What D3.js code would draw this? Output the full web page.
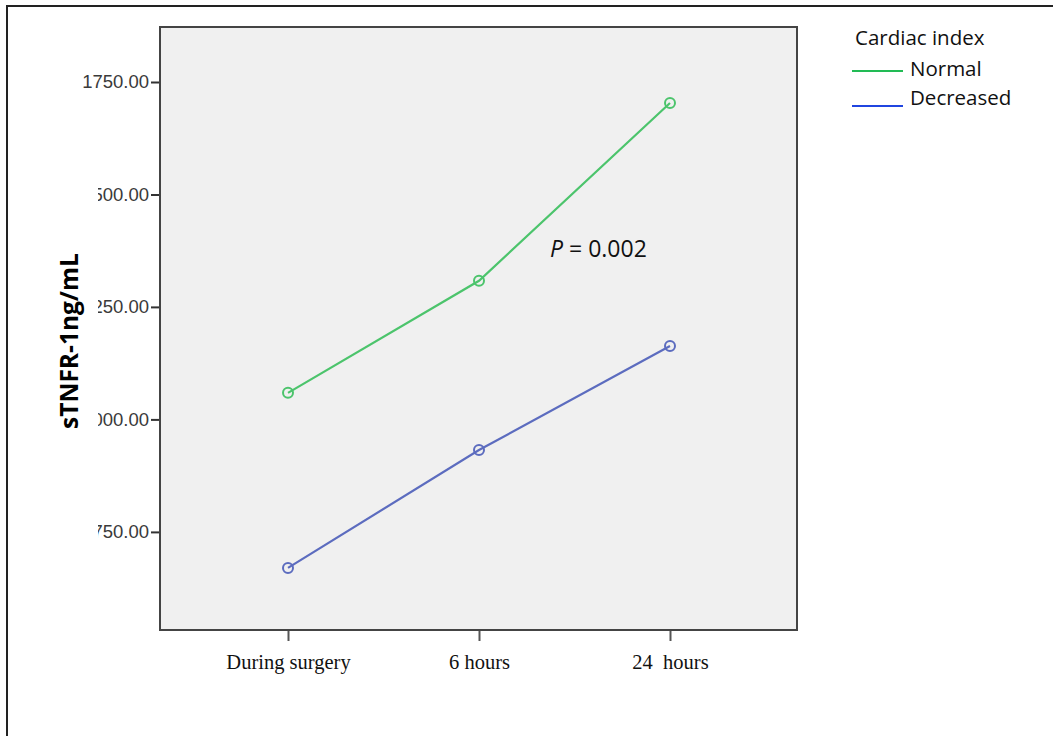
<!DOCTYPE html>
<html>
<head>
<meta charset="utf-8">
<script src="https://cdn.jsdelivr.net/npm/d3@7"></script>
<style>
  body { margin: 0; background: #fff; }
  svg { display: block; }
</style>
</head>
<body>
<div id="chart"></div>
<script>
// data
var timePoints = ["During surgery", "6 hours", "24  hours"];
var normalValues = [1059, 1308, 1703];
var decreasedValues = [670, 932, 1163];
var yTicks = [750, 1000, 1250, 1500, 1750];
var seriesNames = ["Normal", "Decreased"];

var width = 1053, height = 736;
var plot = { left: 160, top: 27, right: 797, bottom: 630 };

var svg = d3.select("#chart").append("svg")
  .attr("width", width)
  .attr("height", height);

// outer frame (only top and left visible)
svg.append("path")
  .attr("d", "M7,740 L7,6 L1060,6")
  .attr("fill", "none")
  .attr("stroke", "#222")
  .attr("stroke-width", 2);

var x = d3.scalePoint()
  .domain(timePoints)
  .range([288, 670]);

var y = d3.scaleLinear()
  .domain([532, 1872])
  .range([plot.bottom, plot.top]);

// plot background
svg.append("rect")
  .attr("x", plot.left)
  .attr("y", plot.top)
  .attr("width", plot.right - plot.left)
  .attr("height", plot.bottom - plot.top)
  .attr("fill", "#f0f0f0")
  .attr("stroke", "#444")
  .attr("stroke-width", 2);

// left tick labels got clipped in the original figure
var defs = svg.append("defs");
defs.append("clipPath").attr("id", "lblclip")
  .append("path")
  .attr("d", "M0,0 L170,0 L170,736 L98,736 L98,150 L0,150 Z");

var yAxis = d3.axisLeft(y)
  .tickValues(yTicks)
  .tickFormat(d3.format(".2f"))
  .tickSize(8)
  .tickPadding(2);

var gy = svg.append("g")
  .attr("clip-path", "url(#lblclip)")
  .append("g")
  .attr("transform", `translate(${plot.left - 1},0)`)
  .call(yAxis);
gy.select(".domain").remove();
gy.selectAll("line").attr("stroke", "#333").attr("stroke-width", 2);
gy.selectAll("text")
  .attr("font-family", "Liberation Sans, Arial, sans-serif")
  .attr("font-size", 18.5)
  .attr("fill", "#3a3a3a");

var xAxis = d3.axisBottom(x)
  .tickSize(10)
  .tickPadding(13);

var gx = svg.append("g")
  .attr("transform", `translate(0,${plot.bottom + 1})`)
  .call(xAxis);
gx.select(".domain").remove();
gx.selectAll("line").attr("stroke", "#555").attr("stroke-width", 2);
gx.selectAll("text")
  .attr("font-family", "Liberation Serif, Times New Roman, serif")
  .attr("font-size", 20.5)
  .attr("fill", "#111")
  .style("white-space", "pre");

// y axis title
svg.append("text")
  .attr("transform", "translate(78,341) rotate(-90)")
  .attr("text-anchor", "middle")
  .attr("font-family", "Open Sans, Noto Sans, sans-serif")
  .attr("font-weight", "bold")
  .attr("font-size", 24.5)
  .attr("fill", "#000")
  .text("sTNFR-1ng/mL");

var series = [
  { name: seriesNames[0], values: normalValues, color: "#4cc46c", legend: "#22bb55" },
  { name: seriesNames[1], values: decreasedValues, color: "#5c6cbf", legend: "#2045e0" }
];

var line = d3.line()
  .x(function (d, i) { return x(timePoints[i]); })
  .y(function (d) { return y(d); });

series.forEach(function (s) {
  svg.append("path")
    .datum(s.values)
    .attr("d", line)
    .attr("fill", "none")
    .attr("stroke", s.color)
    .attr("stroke-width", 2.2);

  svg.append("g")
    .selectAll("circle")
    .data(s.values)
    .join("circle")
    .attr("cx", function (d, i) { return x(timePoints[i]); })
    .attr("cy", function (d) { return y(d); })
    .attr("r", 5)
    .attr("fill", "none")
    .attr("stroke", s.color)
    .attr("stroke-width", 2);
});

// annotation
var pText = svg.append("text")
  .attr("x", 550)
  .attr("y", 257)
  .attr("font-family", "Open Sans, Noto Sans, sans-serif")
  .attr("font-size", 23)
  .attr("fill", "#111");
pText.append("tspan").attr("font-style", "italic").text("P");
pText.append("tspan").text(" = 0.002");

// legend
var legend = svg.append("g")
  .attr("font-family", "Open Sans, Noto Sans, sans-serif")
  .attr("font-size", 20.5)
  .attr("fill", "#111");

legend.append("text")
  .attr("x", 855)
  .attr("y", 45)
  .text("Cardiac index");

var legendY = d3.scalePoint()
  .domain(seriesNames)
  .range([69, 98]);

series.forEach(function (s) {
  var yy = legendY(s.name);
  legend.append("line")
    .attr("x1", 852).attr("x2", 903)
    .attr("y1", s.name === "Normal" ? yy + 2 : yy + 8)
    .attr("y2", s.name === "Normal" ? yy + 2 : yy + 8)
    .attr("stroke", s.legend)
    .attr("stroke-width", 2);
  legend.append("text")
    .attr("x", 910)
    .attr("y", yy + 7)
    .text(s.name);
});
</script>
</body>
</html>
